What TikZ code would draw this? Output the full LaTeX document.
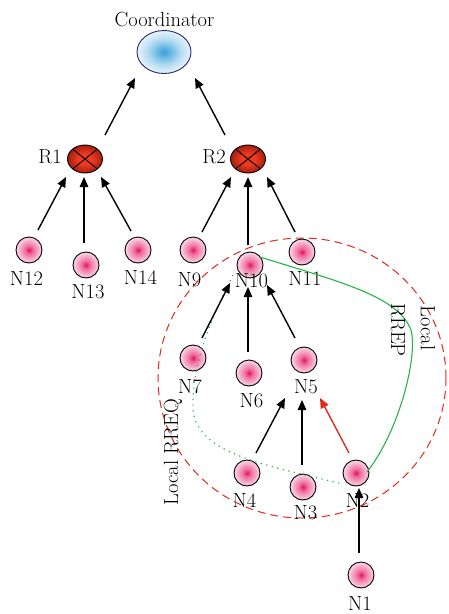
\documentclass[tikz,border=0pt]{standalone}
\usetikzlibrary{shapes.geometric,arrows.meta,calc}
\definecolor{pinkC}{RGB}{228,20,95}
\definecolor{pinkM}{RGB}{240,110,158}
\definecolor{pinkO}{RGB}{251,218,232}
\definecolor{redC}{RGB}{238,58,32}
\definecolor{redO}{RGB}{165,30,15}
\definecolor{blueC}{RGB}{55,160,218}
\definecolor{blueO}{RGB}{232,244,252}
\definecolor{navy}{RGB}{40,42,110}
\definecolor{dred}{RGB}{225,40,30}
\definecolor{gline}{RGB}{40,180,70}
\definecolor{arrred}{RGB}{220,45,30}
\pgfdeclareradialshading{pinkball}{\pgfpoint{0bp}{0bp}}{color(0bp)=(pinkC); color(8bp)=(pinkM); color(25bp)=(pinkO); color(50bp)=(pinkO)}
\pgfdeclareradialshading{redball}{\pgfpoint{0bp}{0bp}}{color(0bp)=(redC); color(10bp)=(redC); color(25bp)=(redO); color(50bp)=(redO)}
\pgfdeclareradialshading{blueball}{\pgfpoint{0bp}{0bp}}{color(0bp)=(blueC); color(15bp)=(blueO!70!blueC); color(25bp)=(blueO); color(50bp)=(blueO)}
\begin{document}
\begin{tikzpicture}[x=1pt,y=-1pt,
  font=\fontsize{20.5}{22}\selectfont,
  pnode/.style={circle, draw=black, line width=0.9pt, minimum size=26pt, inner sep=0pt,
    shading=pinkball},
  rnode/.style={ellipse, draw=black, line width=0.9pt, minimum width=35pt, minimum height=28pt, inner sep=0pt,
    shading=redball,
    path picture={\draw[line width=0.9pt] (path picture bounding box.north west) -- (path picture bounding box.south east)
      (path picture bounding box.north east) -- (path picture bounding box.south west);}},
  cnode/.style={ellipse, draw=navy, line width=0.9pt, minimum width=54pt, minimum height=43pt, inner sep=0pt,
    shading=blueball},
  lbl/.style={inner sep=0pt, text=black},
  arr/.style={line width=1.4pt, -{Triangle[length=10pt,width=8.5pt]}},
  rarr/.style={arr, draw=arrred, -{Triangle[length=10pt,width=8.5pt,fill=arrred]}},
]
\useasboundingbox (0,0) rectangle (448,614);

% dashed region
\draw[dred, line width=1pt, dash pattern=on 8pt off 5pt] (302,378) ellipse [x radius=144, y radius=140];

% nodes
\node[cnode] (C) at (164,52) {};
\node[rnode] (R1) at (85,159) {};
\node[rnode] (R2) at (248,159) {};
\node[pnode] (N12) at (29,250) {};
\node[pnode] (N13) at (86,265) {};
\node[pnode] (N14) at (138,250) {};
\node[pnode] (N9) at (193,250) {};
\node[pnode] (N10) at (250,265) {};
\node[pnode] (N11) at (302,252) {};
\node[pnode] (N7) at (193,358) {};
\node[pnode] (N6) at (249,373) {};
\node[pnode] (N5) at (304,360) {};
\node[pnode] (N4) at (247,473) {};
\node[pnode] (N3) at (303,487) {};
\node[pnode] (N2) at (356,473) {};
\node[pnode] (N1) at (361,575) {};

% labels
\node[lbl] (tC) at (164.5,19) {Coordinator};
\node[lbl] (tR1) at (50,157) {R1};
\node[lbl] (tR2) at (214,157) {R2};
\node[lbl] (t12) at (26.5,278) {N12};
\node[lbl] (t13) at (88,292) {N13};
\node[lbl] (t14) at (140.5,277) {N14};
\node[lbl] (t9) at (189.5,280) {N9};
\node[lbl] (t10) at (251.5,281) {N10};
\node[lbl] (t11) at (305,278) {N11};
\node[lbl] (t7) at (190,387) {N7};
\node[lbl] (t6) at (251.5,401) {N6};
\node[lbl] (t5) at (306,387) {N5};
\node[lbl] (t4) at (244.5,500) {N4};
\node[lbl] (t3) at (305.5,513) {N3};
\node[lbl] (t2) at (357.5,500) {N2};
\node[lbl] (t1) at (360,603) {N1};

% green routes
\draw[gline, line width=1.1pt]
  ([shift={(10,-8)}]N10.center) .. controls (340,282) and (398,296) .. (411,330)
  .. controls (418,355) and (400,430) .. ([shift={(11,-1)}]N2.center);
\draw[gline, line width=1.2pt, dotted, dash pattern=on 1.2pt off 4.5pt]
  ([shift={(-17,10)}]N10.center) .. controls (205,330) and (192,370) .. (193,410)
  .. controls (198,452) and (255,463) .. ([shift={(-13,11)}]N2.center);

% rotated labels
\node[lbl, rotate=90] (tRREQ) at (173,452) {Local RREQ};
\node[lbl, rotate=-90] (tLocal) at (428,328) {Local};
\node[lbl, rotate=-90] (tRREP) at (398,330) {RREP};

% arrows
\draw[arr] ([shift={(20,-24)}]R1.center) -- ([shift={(-29,26)}]C.center);
\draw[arr] ([shift={(-23,-24)}]R2.center) -- ([shift={(31,26)}]C.center);
\draw[arr] ([shift={(9,-20)}]N12.center) -- ([shift={(-19,18)}]R1.center);
\draw[arr] ([shift={(-2,-22)}]N13.center) -- ([shift={(-1,18)}]R1.center);
\draw[arr] ([shift={(-7,-19)}]N14.center) -- ([shift={(16,18)}]R1.center);
\draw[arr] ([shift={(9,-18)}]N9.center) -- ([shift={(-17,18)}]R2.center);
\draw[arr] ([shift={(-2,-20)}]N10.center) -- ([shift={(0,18)}]R2.center);
\draw[arr] ([shift={(-7,-20)}]N11.center) -- ([shift={(19,18)}]R2.center);
\draw[arr] ([shift={(9,-20)}]N7.center) -- ([shift={(-20,18)}]N10.center);
\draw[arr] ([shift={(-1,-21)}]N6.center) -- ([shift={(-2,22)}]N10.center);
\draw[arr] ([shift={(-9,-22)}]N5.center) -- ([shift={(17,20)}]N10.center);
\draw[arr] ([shift={(9,-20)}]N4.center) -- ([shift={(-19,38)}]N5.center);
\draw[arr] ([shift={(-1,-22)}]N3.center) -- ([shift={(-2,40)}]N5.center);
\draw[rarr] ([shift={(-7,-20)}]N2.center) -- ([shift={(16,38)}]N5.center);
\draw[arr] ([shift={(-2,-22)}]N1.center) -- ([shift={(3,15)}]N2.center);
\end{tikzpicture}
\end{document}
